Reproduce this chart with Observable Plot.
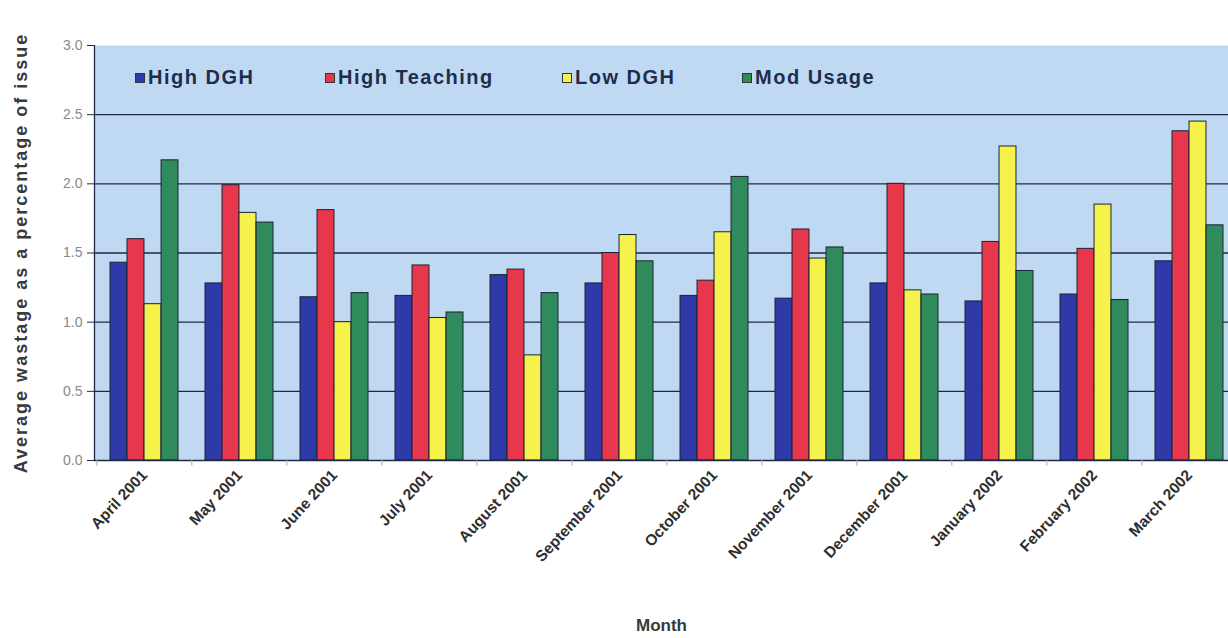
<!DOCTYPE html>
<html>
<head>
<meta charset="utf-8">
<script src="https://cdn.jsdelivr.net/npm/d3@7"></script>
<script src="https://cdn.jsdelivr.net/npm/@observablehq/plot@0.6"></script>
<style>
  html, body { margin: 0; padding: 0; background: #ffffff; }
  #wrap { position: relative; width: 1228px; height: 638px; overflow: hidden; font-family: Arial, "Liberation Sans", sans-serif; }
  #legend { position: absolute; left: 0; top: 0; width: 1228px; height: 100px; pointer-events: none; }
  .item { position: absolute; top: 66px; display: flex; align-items: center; font-size: 20px; font-weight: bold; letter-spacing: 1.5px; color: #1f2d4d; }
  .sw { width: 10px; height: 10px; border: 1px solid #333; margin-right: 3px; box-sizing: border-box; }
  svg [aria-label="y-axis label"] text { letter-spacing: 2px; }
</style>
</head>
<body>
<div id="wrap"><div id="legend"></div></div>
<script>
const months = ["April 2001", "May 2001", "June 2001", "July 2001", "August 2001", "September 2001",
  "October 2001", "November 2001", "December 2001", "January 2002", "February 2002", "March 2002"];
const seriesNames = ["High DGH", "High Teaching", "Low DGH", "Mod Usage"];
const highDGH      = [1.43, 1.28, 1.18, 1.19, 1.34, 1.28, 1.19, 1.17, 1.28, 1.15, 1.20, 1.44];
const highTeaching = [1.60, 1.99, 1.81, 1.41, 1.38, 1.50, 1.30, 1.67, 2.00, 1.58, 1.53, 2.38];
const lowDGH       = [1.13, 1.79, 1.00, 1.03, 0.76, 1.63, 1.65, 1.46, 1.23, 2.27, 1.85, 2.45];
const modUsage     = [2.17, 1.72, 1.21, 1.07, 1.21, 1.44, 2.05, 1.54, 1.20, 1.37, 1.16, 1.70];
const yTicks = [0, 0.5, 1.0, 1.5, 2.0, 2.5, 3.0];
const colors = ["#2e3aa8", "#e6374c", "#f5f24c", "#2f8a5c"];

const seriesValues = [highDGH, highTeaching, lowDGH, modUsage];
const table = seriesNames.map((s, i) => months.map((m, j) => ({month: m, series: s, value: seriesValues[i][j]})));

const W = 1228, H = 638;
const mL = 94, mR = 0, mT = 45, mB = 178;
const xRange = [94, 1238];
const padIn = 0.286, padOut = 0.143;
const band = d3.scaleBand().domain(months).range(xRange).paddingInner(padIn).paddingOuter(padOut);
const bw = band.bandwidth() / 4;
const step = band.step();
const frameCenter = (mL + W - mR) / 2;

const bars = table.map((rows, i) => Plot.barY(rows, {
  x: "month", y: "value", fill: colors[i], stroke: "#1c2233", strokeWidth: 1,
  insetLeft: i * bw, insetRight: (3 - i) * bw
}));

const chart = Plot.plot({
  width: W, height: H,
  marginLeft: mL, marginRight: mR, marginTop: mT, marginBottom: mB,
  style: {fontFamily: "Arial, 'Liberation Sans', sans-serif", background: "transparent", overflow: "hidden"},
  x: {domain: months, range: xRange, paddingInner: padIn, paddingOuter: padOut},
  y: {domain: [0, 3]},
  marks: [
    Plot.frame({fill: "#c0d9f2", stroke: null}),
    Plot.ruleY(yTicks.filter(v => v > 0 && v < 3), {stroke: "#1e2a45", strokeWidth: 1.3}),
    ...bars,
    Plot.ruleY([0], {stroke: "#1e2a45", strokeWidth: 1.5}),
    Plot.ruleX([0], {x: null, dx: mL - frameCenter, stroke: "#1e2a45", strokeWidth: 1.3}),
    Plot.ruleX(months, {x: d => d, dx: -step / 2, y1: 0, y2: -0.04, stroke: "#aaaaaa"}),
    Plot.axisY({ticks: yTicks, tickFormat: d3.format(".1f"), tickSize: 7, tickPadding: 5,
      fontSize: 14, color: "#8a8a8a", stroke: "#1e2a45", label: null}),
    Plot.axisY({ticks: [], label: "Average wastage as a percentage of issue", labelAnchor: "center",
      labelArrow: "none", labelOffset: 80, fontSize: 18, fontWeight: "bold", color: "#3a3a3a"}),
    Plot.axisX({tickRotate: -47, tickSize: 0, tickPadding: 12, fontSize: 15.5, fontWeight: "bold",
      color: "#2e2e2e", label: null}),
    Plot.axisX({ticks: [], label: "Month", labelAnchor: "center", labelArrow: "none", labelOffset: 170,
      fontSize: 17, fontWeight: "bold", color: "#3a3a3a"})
  ]
});
document.getElementById("wrap").prepend(chart);

const legendPos = [135, 325, 562, 742];
const legend = document.getElementById("legend");
seriesNames.forEach((s, i) => {
  const item = document.createElement("div");
  item.className = "item";
  item.style.left = legendPos[i] + "px";
  const sw = document.createElement("span");
  sw.className = "sw";
  sw.style.background = colors[i];
  const t = document.createElement("span");
  t.textContent = s;
  item.append(sw, t);
  legend.append(item);
});
</script>
</body>
</html>
